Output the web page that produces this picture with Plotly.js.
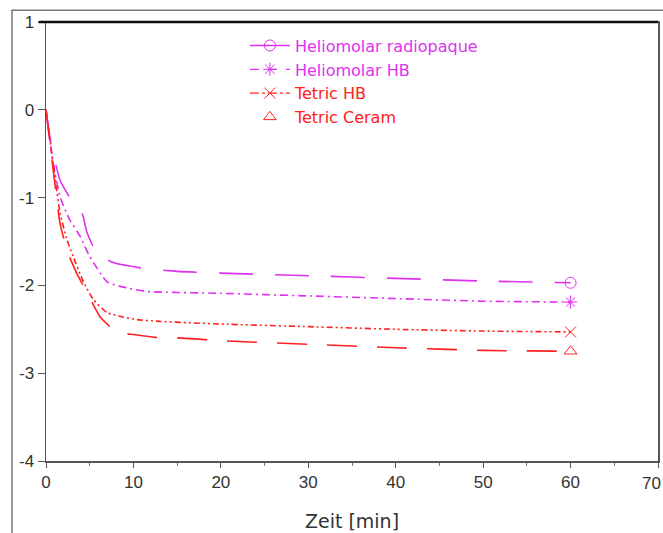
<!DOCTYPE html>
<html><head><meta charset="utf-8">
<script src="https://cdn.plot.ly/plotly-3.0.1.min.js"></script>
<style>html,body{margin:0;padding:0;background:#fff}#c{width:663px;height:533px}</style>
</head><body><div id="c"></div>
<script>
const seriesNames = ["Heliomolar radiopaque", "Heliomolar HB", "Tetric HB", "Tetric Ceram"];
const seriesColors = ["#e030f0", "#e030f0", "#ff2020", "#ff2020"];

const helioRadX = [0, 0.5, 1.6, 3.1, 4.1, 4.7, 5.8, 7.7, 10.8, 15, 20, 30, 40, 50, 60];
const helioRadY = [0, -0.34, -0.8, -1.06, -1.17, -1.4, -1.63, -1.74, -1.8, -1.84, -1.86, -1.89, -1.92, -1.95, -1.97];

const helioHBX = [0, 0.7, 1.6, 2.7, 3.9, 5.0, 7.0, 9.3, 11.6, 20, 30, 40, 50, 60];
const helioHBY = [0, -0.53, -0.99, -1.25, -1.44, -1.67, -1.96, -2.03, -2.07, -2.09, -2.12, -2.15, -2.18, -2.19];

const tetricHBX = [0, 0.8, 1.6, 2.4, 3.1, 4.2, 5.4, 7.0, 8.8, 10.4, 13, 20, 30, 40, 50, 60];
const tetricHBY = [0, -0.6, -1.17, -1.48, -1.67, -1.94, -2.16, -2.31, -2.36, -2.39, -2.41, -2.44, -2.47, -2.5, -2.52, -2.53];

const tetricCerX = [0, 1.0, 1.6, 2.4, 3.5, 4.7, 6.2, 8.1, 10, 12.3, 15.7, 20, 30, 40, 50, 60];
const tetricCerY = [0, -0.83, -1.29, -1.6, -1.86, -2.08, -2.36, -2.53, -2.56, -2.59, -2.6, -2.63, -2.67, -2.71, -2.74, -2.75];

const yTickVals = [1, 0, -1, -2, -3, -4];
const yTickText = ["1", "0", "-1", "-2", "-3", "-4"];
const xTickVals = [0, 10, 20, 30, 40, 50, 60, 70];
const xTickText = ["0", "10", "20", "30", "40", "50", "60", ""];
const xLastLabel = "70";

const xs = [helioRadX, helioHBX, tetricHBX, tetricCerX];
const ys = [helioRadY, helioHBY, tetricHBY, tetricCerY];
const curveDash = ["34px,22px", "8px,4px,2px,4px", "6px,3px,2px,3px,2px,3px", "30px,20px"];
const legendDash = ["solid", "dash", "dashdot", "solid"];
const symbols = ["circle-open", "asterisk-open", "x-thin-open", "triangle-up-open"];

const traces = [];
for (let i = 0; i < 4; i++) {
  traces.push({
    x: xs[i], y: ys[i], type: "scatter", mode: "lines", showlegend: false,
    line: {color: seriesColors[i], width: 1.6, dash: curveDash[i], shape: "spline", smoothing: 0.5},
    hoverinfo: "skip"
  });
}
for (let i = 0; i < 4; i++) {
  const n = xs[i].length - 1;
  traces.push({
    x: [xs[i][n]], y: [ys[i][n]], type: "scatter",
    mode: i === 3 ? "markers" : "lines+markers",
    name: '<span style="color:' + seriesColors[i] + '">' + seriesNames[i] + '</span>',
    line: {color: seriesColors[i], width: 1.3, dash: legendDash[i]},
    marker: {symbol: symbols[i], size: 11, color: seriesColors[i], line: {color: seriesColors[i], width: 1}}
  });
}

const layout = {
  width: 663, height: 533,
  margin: {l: 46, r: 5, t: 22, b: 72},
  paper_bgcolor: "#fff", plot_bgcolor: "#fff",
  font: {family: "Liberation Sans, Arial, sans-serif", size: 16, color: "#333"},
  showlegend: true,
  legend: {x: 0.325, y: 0.985, xanchor: "left", yanchor: "top", bgcolor: "rgba(0,0,0,0)",
           font: {family: "DejaVu Sans, sans-serif", size: 16}, tracegroupgap: 0, itemwidth: 40},
  xaxis: {range: [0, 70], tickvals: xTickVals, ticktext: xTickText, ticks: "outside", ticklen: 5, tickcolor: "#555",
          showgrid: false, zeroline: false, showline: true, linecolor: "#555", linewidth: 1.5, mirror: true,
          minor: {dtick: 5, ticks: "outside", ticklen: 3, tickcolor: "#777"},
          tickfont: {size: 17, color: "#333"},
          title: {text: "Zeit [min]", font: {family: "DejaVu Sans, sans-serif", size: 19, color: "#333"}, standoff: 24}},
  yaxis: {range: [-4, 1], tickvals: yTickVals, ticktext: yTickText, ticks: "outside", ticklen: 7, tickcolor: "#555",
          showgrid: false, zeroline: false, showline: true, linecolor: "#555", linewidth: 1.5, mirror: true,
          tickfont: {size: 17, color: "#333"}},
  annotations: [
    {text: xLastLabel, xref: "x", yref: "paper", x: 70, y: 0, xanchor: "right", yanchor: "top",
     xshift: 5, yshift: -11, showarrow: false, font: {size: 17, color: "#333"}}
  ],
  shapes: [
    {type: "rect", xref: "paper", yref: "paper", x0: -0.0556, x1: 1.1, y0: -0.3, y1: 1.027,
     line: {color: "#777", width: 1.5}, layer: "below"},
    {type: "line", xref: "paper", yref: "paper", x0: -0.012, x1: 1, y0: 1, y1: 1,
     line: {color: "#111", width: 2.5}}
  ]
};

Plotly.newPlot("c", traces, layout, {displayModeBar: false, staticPlot: true});
</script>
</body></html>
